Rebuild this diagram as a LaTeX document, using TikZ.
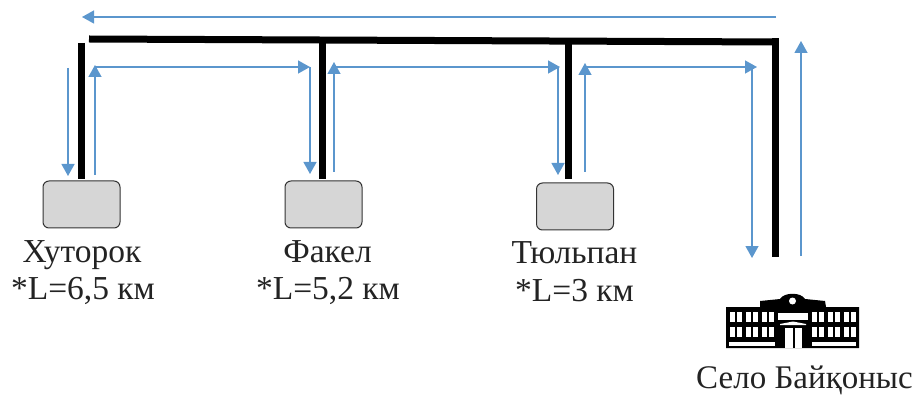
\documentclass[tikz,border=0pt]{standalone}
\usepackage{fontspec}
\setmainfont{Liberation Serif}
\usetikzlibrary{arrows.meta}
\definecolor{flow}{RGB}{91,150,205}
\definecolor{boxgray}{RGB}{214,214,214}
\definecolor{txt}{RGB}{35,35,35}
\tikzset{
  pipe/.style={line width=7pt,draw=black},
  flowline/.style={line width=1.3pt,draw=flow,-{Triangle[length=12pt,width=13pt,fill=flow]}},
  consumer/.style={draw=black!80,line width=1pt,fill=boxgray,rounded corners=6pt,minimum width=77pt,minimum height=47pt,inner sep=0pt},
  lab/.style={font=\fontsize{33.5}{36}\selectfont,text=txt,inner sep=0pt,anchor=base},
  bld/.style={fill=black,draw=none},
  win/.style={fill=white,draw=none}
}
\begin{document}
\begin{tikzpicture}[x=1pt,y=-1pt]
\useasboundingbox (0,0) rectangle (917,395);
% consumers
\node[consumer] (b1) at (81.5,204.5) {};
\node[consumer] (b2) at (323.5,204.5) {};
\node[consumer] (b3) at (575,206.5) {};
% labels
\node[lab] (t1) at (82,262) {Хуторок};
\node[lab] (d1) at (83,299) {*L=6,5 км};
\node[lab] (t2) at (327.5,262) {Факел};
\node[lab] (d2) at (328,299) {*L=5,2 км};
\node[lab] (t3) at (574.5,263) {Тюльпан};
\node[lab] (d3) at (574.5,301) {*L=3 км};
\node[lab,font=\fontsize{33}{35}\selectfont] (t4) at (804.5,388) {Село Байқоныс};
% pipe coordinates
\coordinate (p0) at (89,39);
\coordinate (p3) at (778.5,42);
\coordinate (p4) at (775,257);
\coordinate (v1a) at (81.5,43);
\coordinate (v1b) at (81.5,179);
\coordinate (v2a) at (322,40);
\coordinate (v2b) at (322,179);
\coordinate (v3a) at (568,41);
\coordinate (v3b) at (568,179);
\coordinate (v4a) at (775,38.5);
\draw[pipe] (p0) -- (p3);
\draw[pipe] (v1a) -- (v1b);
\draw[pipe] (v2a) -- (v2b);
\draw[pipe] (v3a) -- (v3b);
\draw[pipe] (v4a) -- (p4);
% flow coordinates
\coordinate (a) at (776,17);
\coordinate (a') at (82,17);
\coordinate (c1) at (68,68);
\coordinate (c2) at (68,176);
\coordinate (e1) at (95,175);
\coordinate (e2) at (95,65);
\coordinate (e3) at (95,67);
\coordinate (e4) at (310,67);
\coordinate (e5) at (310,67);
\coordinate (e6) at (310,174);
\coordinate (g1) at (334,172);
\coordinate (g2) at (334,62);
\coordinate (g3) at (334,67);
\coordinate (g4) at (560,67);
\coordinate (g5) at (558,67);
\coordinate (g6) at (558,175);
\coordinate (h1) at (585,172);
\coordinate (h2) at (585,63);
\coordinate (h3) at (585,67);
\coordinate (h4) at (757,67);
\coordinate (h5) at (752,67);
\coordinate (h6) at (752,258);
\coordinate (k1) at (801,256);
\coordinate (k2) at (801,41);
\draw[flowline] (a) -- (a');
\draw[flowline] (c1) -- (c2);
\draw[flowline] (e1) -- (e2);
\draw[flowline] (e3) -- (e4);
\draw[flowline] (e5) -- (e6);
\draw[flowline] (g1) -- (g2);
\draw[flowline] (g3) -- (g4);
\draw[flowline] (g5) -- (g6);
\draw[flowline] (h1) -- (h2);
\draw[flowline] (h3) -- (h4);
\draw[flowline] (h5) -- (h6);
\draw[flowline] (k1) -- (k2);
% school building
\fill[bld] (760,301) -- (780,299) .. controls (784,292) and (801,292) .. (805,299) -- (825,301) -- (826,307) -- (859,307) -- (859,348) -- (726,348) -- (726,307) -- (760,307) -- cycle;
\fill[win] (729,342) rectangle (775,346);
\fill[win] (812,342) rectangle (856,346);
\fill[win] (785,328) rectangle (802,348);
\fill[bld] (792.5,328) rectangle (794.5,348);
\fill[win] (778,313) rectangle (808,320);
\fill[win] (780,324) -- (793,321.5) -- (806,324) -- (806,325) -- (780,325) -- cycle;
\fill[white] (792.5,301) circle (3.5pt);
\foreach \wx in {730,746,762,812,828,844} {
  \fill[win] (\wx,312) rectangle (\wx+12,322);
  \fill[win] (\wx,327) rectangle (\wx+12,337);
  \fill[bld] (\wx+5.2,312) rectangle (\wx+6.8,337);
}
\end{tikzpicture}
\end{document}
